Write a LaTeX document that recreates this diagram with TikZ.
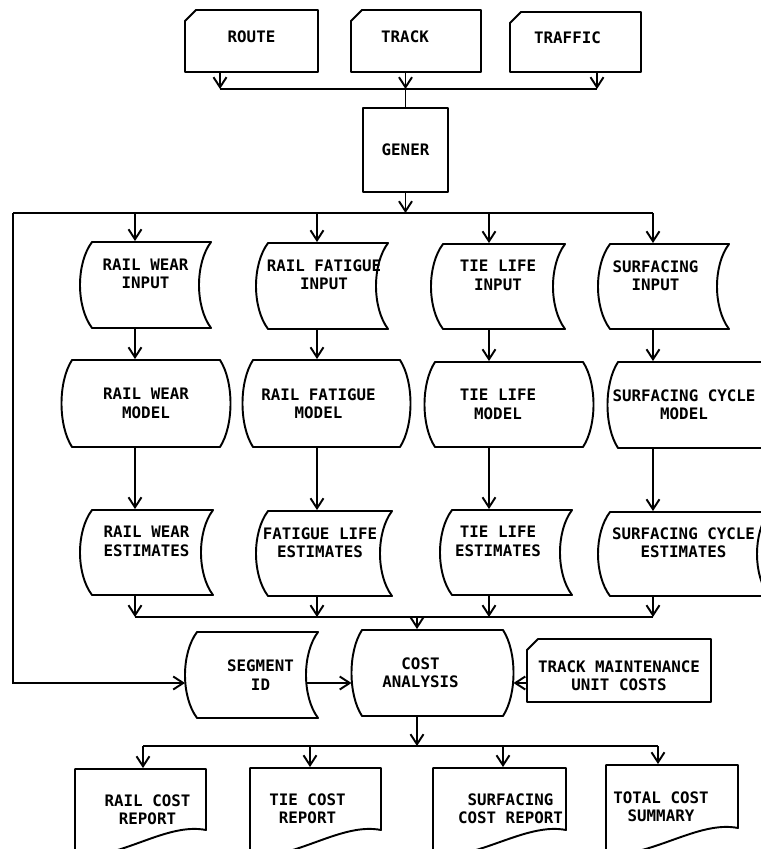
\documentclass[tikz,border=0pt]{standalone}
\usepackage{fontspec}
\usepackage{tikz}
\usetikzlibrary{arrows.meta,calc,fit}
\newfontfamily\chartfont{DejaVu Sans Mono}
\newcommand{\chartsize}{\fontsize{9}{10.5}\selectfont}
\tikzset{
  shp/.style={line width=1.1pt, line join=round},
  arr/.style={line width=1.1pt, -{Straight Barb[length=2mm,width=2.6mm]}},
  frame/.style={inner sep=0pt, draw=none},
  txt/.style={font=\chartfont\chartsize\bfseries, align=center, inner sep=0pt}
}
% #1 text shift, #2 name, #3 #4 top left, #5 #6 bottom right, #7 text
\newcommand{\tcard}[7][(0,0)]{%
  \draw[shp] (#3,{#4+11}) -- ({#3+11},#4) -- (#5,#4) -- (#5,#6) -- (#3,#6) -- cycle;
  \node[frame, fit={(#3,#4) (#5,#6)}] (#2) {};
  \node[txt] (#2-t) at ($(#2.center)+#1$) {#7};}
\newcommand{\tproc}[7][(0,0)]{%
  \draw[shp] (#3,#4) rectangle (#5,#6);
  \node[frame, fit={(#3,#4) (#5,#6)}] (#2) {};
  \node[txt] (#2-t) at ($(#2.center)+#1$) {#7};}
\newcommand{\tstore}[7][(0,0)]{%
  \draw[shp] (#3,#4) -- (#5,#4)
    .. controls ({#5-16},{#4+(#6-#4)/4}) and ({#5-16},{#6-(#6-#4)/4}) .. (#5,#6)
    -- (#3,#6)
    .. controls ({#3-16},{#6-(#6-#4)/4}) and ({#3-16},{#4+(#6-#4)/4}) .. cycle;
  \node[frame, fit={(#3,#4) (#5,#6)}] (#2) {};
  \coordinate (#2-w) at ({#3-12},{(#4+#6)/2});
  \coordinate (#2-e) at ({#5-12},{(#4+#6)/2});
  \node[txt] (#2-t) at ($(#2.center)+#1$) {#7};}
\newcommand{\tmodel}[7][(0,0)]{%
  \draw[shp] (#3,#4) -- (#5,#4)
    .. controls ({#5+14},{#4+(#6-#4)/4}) and ({#5+14},{#6-(#6-#4)/4}) .. (#5,#6)
    -- (#3,#6)
    .. controls ({#3-14},{#6-(#6-#4)/4}) and ({#3-14},{#4+(#6-#4)/4}) .. cycle;
  \node[frame, fit={(#3,#4) (#5,#6)}] (#2) {};
  \coordinate (#2-w) at ({#3-10.5},{(#4+#6)/2});
  \coordinate (#2-e) at ({#5+10.5},{(#4+#6)/2});
  \node[txt] (#2-t) at ($(#2.center)+#1$) {#7};}
\newcommand{\tdoc}[7][(0,0)]{%
  \draw[shp] (#3,#4) -- (#5,#4) -- (#5,#6)
    .. controls ({#5-40},{#6-8}) and ({#3+45},{#6+30}) .. (#3,{#6+26}) -- cycle;
  \node[frame, fit={(#3,#4) (#5,#6)}] (#2) {};
  \node[txt] (#2-t) at ($(#2.center)+#1$) {#7};}

\begin{document}
\begin{tikzpicture}[x=0.02cm, y=-0.02cm, line width=1.1pt]
\useasboundingbox (0,0) rectangle (761,849);
\clip (0,0) rectangle (761,849);

% ---- input files and generator
\tcard[(0,-4)]{route}{185}{10}{318}{72}{ROUTE}
\tcard[(-11,-4)]{track}{351}{10}{481}{72}{TRACK}
\tcard[(-8,-4)]{traffic}{510}{12}{641}{72}{TRAFFIC}
\tproc{gener}{363}{108}{448}{192}{GENER}

% ---- model inputs
\tstore[(-6,-11)]{rwi}{92}{242}{211}{328}{RAIL WEAR\\INPUT}
\tstore[(-4,-11)]{rfi}{268}{243}{388}{329}{RAIL FATIGUE\\INPUT}
\tstore[(-6,-11)]{tli}{443}{244}{565}{329}{TIE LIFE\\INPUT}
\tstore[(-14,-11)]{sfi}{610}{244}{729}{329}{SURFACING\\INPUT}

% ---- models
\tmodel{rwm}{72}{360}{220}{447}{RAIL WEAR\\MODEL}
\tmodel[(-8,0)]{rfm}{253}{360}{400}{447}{RAIL FATIGUE\\MODEL}
\tmodel[(-11,0)]{tlm}{435}{362}{583}{447}{TIE LIFE\\MODEL}
\tmodel[(-10,0)]{scm}{618}{362}{770}{448}{SURFACING CYCLE\\MODEL}

% ---- estimates
\tstore[(-6,-11)]{rwe}{92}{510}{213}{595}{RAIL WEAR\\ESTIMATES}
\tstore[(-10,-11)]{fle}{268}{511}{392}{596}{FATIGUE LIFE\\ESTIMATES}
\tstore[(-14,-11)]{tle}{452}{510}{572}{595}{TIE LIFE\\ESTIMATES}
\tstore[(-6,-11)]{sce}{610}{512}{769}{596}{SURFACING CYCLE\\ESTIMATES}

% ---- cost analysis
\tstore[(3,0)]{seg}{197}{632}{318}{718}{SEGMENT\\ID}
\tmodel[(-12,0)]{cost}{362}{630}{503}{716}{COST\\ANALYSIS}
\tcard[(0,5)]{tmc}{527}{639}{711}{702}{TRACK MAINTENANCE\\UNIT COSTS}

% ---- reports
\tdoc[(7,10)]{rcr}{75}{769}{206}{830}{RAIL COST\\REPORT}
\tdoc[(-8,10)]{tcr}{250}{768}{381}{830}{TIE COST\\REPORT}
\tdoc[(11,10)]{scr}{433}{768}{566}{830}{SURFACING\\COST REPORT}
\tdoc[(-11,10)]{tcs}{606}{765}{738}{828}{TOTAL COST\\SUMMARY}

% ---- bus points
\coordinate (b1w) at (220,89);
\coordinate (b1e) at (597,89);
\coordinate (b2w) at (13,213);
\coordinate (b2e) at (653,213);
\coordinate (b3) at (0,617);
\coordinate (b4) at (0,746);
\coordinate (ya) at (0,683);
\coordinate (c1) at (135,213);
\coordinate (c2) at (317,213);
\coordinate (c3) at (489,213);
\coordinate (c4) at (653,213);
\coordinate (kx) at (417,617);
\coordinate (r1) at (143,746);
\coordinate (r2) at (310,746);
\coordinate (r3) at (503,746);
\coordinate (r4) at (658,746);

% ---- connectors
\draw (b1w) -- (b1e);
\draw[arr] (route.south -| b1w) -- (b1w);
\draw[arr] (track.south -| gener.north) -- (gener.north |- b1w);
\draw[arr] (traffic.south -| b1e) -- (b1e);
\draw (gener.north |- b1w) -- (gener.north);
\draw[arr] (gener.south) -- (gener.south |- b2w);
\draw (b2w) -- (b2e);
\draw[arr] (b2w) |- (seg-w |- ya);
\foreach \cx/\inp in {c1/rwi,c2/rfi,c3/tli,c4/sfi}
  \draw[arr] (\cx) -- (\inp.north -| \cx);
\foreach \cx/\inp/\mdl/\est in {c1/rwi/rwm/rwe,c2/rfi/rfm/fle,c3/tli/tlm/tle,c4/sfi/scm/sce} {
  \draw[arr] (\inp.south -| \cx) -- (\mdl.north -| \cx);
  \draw[arr] (\mdl.south -| \cx) -- (\est.north -| \cx);
  \draw[arr] (\est.south -| \cx) -- (\cx |- b3);
}
\draw (c1 |- b3) -- (c4 |- b3);
\draw[arr] (kx) -- (cost.north -| kx);
\draw[arr] (seg-e |- ya) -- (cost-w |- ya);
\draw[arr] (tmc.west |- ya) -- (cost-e |- ya);
\draw[arr] (cost.south -| kx) -- (kx |- b4);
\draw (r1) -- (r4);
\foreach \cx/\rep in {r1/rcr,r2/tcr,r3/scr,r4/tcs}
  \draw[arr] (\cx) -- (\rep.north -| \cx);
\end{tikzpicture}
\end{document}
